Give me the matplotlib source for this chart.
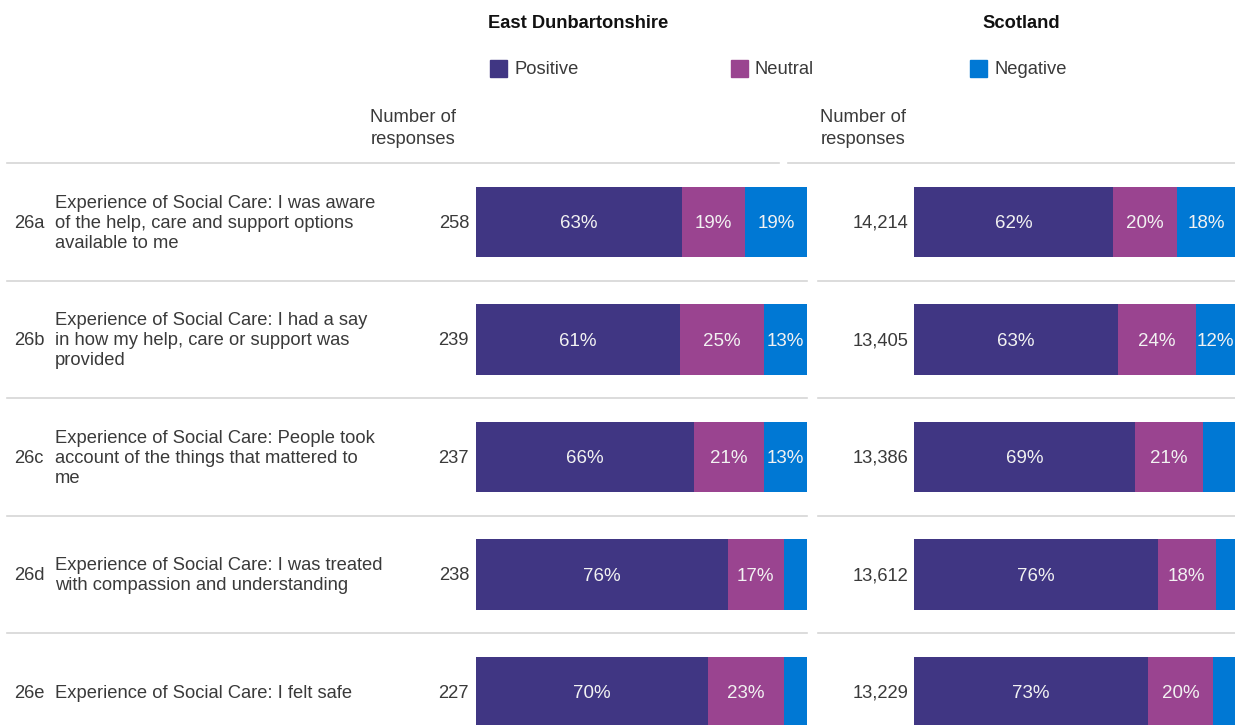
import numpy as np
import matplotlib
matplotlib.use("Agg")
import matplotlib.pyplot as plt
from matplotlib.patches import Rectangle

plt.rcParams['font.family'] = ['Liberation Sans', 'DejaVu Sans']

# data
codes = ["26a", "26b", "26c", "26d", "26e"]
questions = [
    "Experience of Social Care: I was aware\nof the help, care and support options\navailable to me",
    "Experience of Social Care: I had a say\nin how my help, care or support was\nprovided",
    "Experience of Social Care: People took\naccount of the things that mattered to\nme",
    "Experience of Social Care: I was treated\nwith compassion and understanding",
    "Experience of Social Care: I felt safe",
]
ed_n = [258, 239, 237, 238, 227]
ed_pos = [63, 61, 66, 76, 70]
ed_neu = [19, 25, 21, 17, 23]
ed_neg = [19, 13, 13, 7, 7]
sc_n = [14214, 13405, 13386, 13612, 13229]
sc_pos = [62, 63, 69, 76, 73]
sc_neu = [20, 24, 21, 18, 20]
sc_neg = [18, 12, 10, 6, 7]
series = ["Positive", "Neutral", "Negative"]
colors = ["#403683", "#9a4490", "#0078d4"]

W, H = 1235, 725
fs = 13.2
txt = "#3a3a3a"
grid = "#d6d6d6"

fig = plt.figure(figsize=(W / 100, H / 100), dpi=100)

# overlay in pixel coordinates for labels / rules
ov = fig.add_axes([0, 0, 1, 1])
ov.set_xlim(0, W)
ov.set_ylim(H, 0)
ov.axis("off")

top, pitch = 163, 117.5
nrows = len(codes)


def add_pix_axes(x0, x1, y0, y1):
    return fig.add_axes([x0 / W, 1 - y1 / H, (x1 - x0) / W, (y1 - y0) / H])


def draw_bars(ax, pos, neu, neg):
    vals = np.array([pos, neu, neg], dtype=float)
    vals = vals / vals.sum(axis=0) * 100
    y = np.arange(nrows)
    left = np.zeros(nrows)
    raw = [pos, neu, neg]
    for k in range(3):
        ax.barh(y, vals[k], left=left, height=0.6, color=colors[k], edgecolor="none")
        for i in range(nrows):
            if raw[k][i] >= 11:
                ax.text(left[i] + vals[k][i] / 2, y[i] + 0.015, f"{raw[k][i]}%", ha="center",
                        va="center", color="#f2f2f2", fontsize=13.5)
        left += vals[k]
    ax.set_xlim(0, 100)
    ax.set_ylim(nrows - 0.5, -0.5)
    ax.axis("off")


ax1 = add_pix_axes(476, 807, top, top + pitch * nrows)
draw_bars(ax1, ed_pos, ed_neu, ed_neg)
ax2 = add_pix_axes(914, 1235, top, top + pitch * nrows)
draw_bars(ax2, sc_pos, sc_neu, sc_neg)

# titles
ov.text(578, 23.5, "East Dunbartonshire", ha="center", va="center", fontsize=fs,
        fontweight="bold", color="#111111")
ov.text(1021, 23.5, "Scotland", ha="center", va="center", fontsize=fs,
        fontweight="bold", color="#111111")

# legend
for name, c, x in zip(series, colors, [490, 731, 970]):
    ov.add_patch(Rectangle((x, 60), 17, 17, color=c))
    ov.text(x + 24, 69, name, ha="left", va="center", fontsize=fs, color=txt)

# column headers
ov.text(413, 128.5, "Number of\nresponses", ha="center", va="center", fontsize=fs,
        color=txt, linespacing=1.44)
ov.text(863, 128.5, "Number of\nresponses", ha="center", va="center", fontsize=fs,
        color=txt, linespacing=1.44)

# separators
ov.plot([7, 779], [top, top], color=grid, lw=1.2)
ov.plot([788, W], [top, top], color=grid, lw=1.2)
for i in range(1, nrows):
    yy = top + pitch * i
    ov.plot([7, 807], [yy, yy], color=grid, lw=1.2)
    ov.plot([818, W], [yy, yy], color=grid, lw=1.2)

# row labels
for i in range(nrows):
    yc = top + pitch * (i + 0.5) + 1.5
    ov.text(14, yc, codes[i], ha="left", va="center", fontsize=fs, color=txt)
    ov.text(55, yc, questions[i], ha="left", va="center", fontsize=fs, color=txt,
            linespacing=1.24)
    ov.text(469, yc, f"{ed_n[i]:,}", ha="right", va="center", fontsize=fs, color=txt)
    ov.text(908, yc, f"{sc_n[i]:,}", ha="right", va="center", fontsize=fs, color=txt)

fig.savefig("out.png", dpi=100)
